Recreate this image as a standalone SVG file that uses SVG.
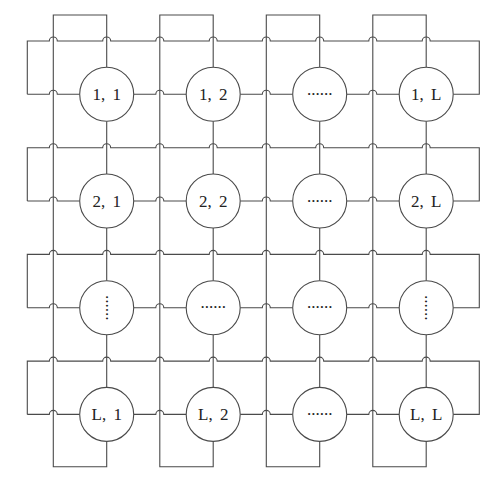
<svg xmlns="http://www.w3.org/2000/svg" width="499" height="483" viewBox="0 0 499 483">
<style>
.w{fill:none;stroke:#4a4a4a;stroke-width:1.1}
.n circle{fill:#fff;stroke:#4a4a4a;stroke-width:1.1}
.n text{font-family:"Liberation Serif","Times New Roman",serif;font-size:17px;fill:#222;text-anchor:middle;word-spacing:3px}
</style>
<rect width="499" height="483" fill="#fff"/>
<g id="connectors" class="w">
<!-- row bypass loops and node rows -->
<path d="M27.3 94.3V41H49.3A4 4 0 0 1 57.3 41H102.7A4 4 0 0 1 110.7 41H155.8A4 4 0 0 1 163.8 41H209.2A4 4 0 0 1 217.2 41H262.3A4 4 0 0 1 270.3 41H315.7A4 4 0 0 1 323.7 41H368.8A4 4 0 0 1 376.8 41H422.2A4 4 0 0 1 430.2 41H479.3V94.3H453.2M27.3 94.3H49.3A4 4 0 0 1 57.3 94.3H79.7M133.7 94.3H155.8A4 4 0 0 1 163.8 94.3H186.2M240.2 94.3H262.3A4 4 0 0 1 270.3 94.3H292.7M346.7 94.3H368.8A4 4 0 0 1 376.8 94.3H399.2"/>
<path d="M27.3 201V147.7H49.3A4 4 0 0 1 57.3 147.7H102.7A4 4 0 0 1 110.7 147.7H155.8A4 4 0 0 1 163.8 147.7H209.2A4 4 0 0 1 217.2 147.7H262.3A4 4 0 0 1 270.3 147.7H315.7A4 4 0 0 1 323.7 147.7H368.8A4 4 0 0 1 376.8 147.7H422.2A4 4 0 0 1 430.2 147.7H479.3V201H453.2M27.3 201H49.3A4 4 0 0 1 57.3 201H79.7M133.7 201H155.8A4 4 0 0 1 163.8 201H186.2M240.2 201H262.3A4 4 0 0 1 270.3 201H292.7M346.7 201H368.8A4 4 0 0 1 376.8 201H399.2"/>
<path d="M27.3 307.7V254.4H49.3A4 4 0 0 1 57.3 254.4H102.7A4 4 0 0 1 110.7 254.4H155.8A4 4 0 0 1 163.8 254.4H209.2A4 4 0 0 1 217.2 254.4H262.3A4 4 0 0 1 270.3 254.4H315.7A4 4 0 0 1 323.7 254.4H368.8A4 4 0 0 1 376.8 254.4H422.2A4 4 0 0 1 430.2 254.4H479.3V307.7H453.2M27.3 307.7H49.3A4 4 0 0 1 57.3 307.7H79.7M133.7 307.7H155.8A4 4 0 0 1 163.8 307.7H186.2M240.2 307.7H262.3A4 4 0 0 1 270.3 307.7H292.7M346.7 307.7H368.8A4 4 0 0 1 376.8 307.7H399.2"/>
<path d="M27.3 414.4V361.1H49.3A4 4 0 0 1 57.3 361.1H102.7A4 4 0 0 1 110.7 361.1H155.8A4 4 0 0 1 163.8 361.1H209.2A4 4 0 0 1 217.2 361.1H262.3A4 4 0 0 1 270.3 361.1H315.7A4 4 0 0 1 323.7 361.1H368.8A4 4 0 0 1 376.8 361.1H422.2A4 4 0 0 1 430.2 361.1H479.3V414.4H453.2M27.3 414.4H49.3A4 4 0 0 1 57.3 414.4H79.7M133.7 414.4H155.8A4 4 0 0 1 163.8 414.4H186.2M240.2 414.4H262.3A4 4 0 0 1 270.3 414.4H292.7M346.7 414.4H368.8A4 4 0 0 1 376.8 414.4H399.2"/>
<!-- column loops -->
<path d="M106.7 67.3V15H53.3V466.7H106.7V441.4M106.7 121.3V174M106.7 228V280.7M106.7 334.7V387.4"/>
<path d="M213.2 67.3V15H159.8V466.7H213.2V441.4M213.2 121.3V174M213.2 228V280.7M213.2 334.7V387.4"/>
<path d="M319.7 67.3V15H266.3V466.7H319.7V441.4M319.7 121.3V174M319.7 228V280.7M319.7 334.7V387.4"/>
<path d="M426.2 67.3V15H372.8V466.7H426.2V441.4M426.2 121.3V174M426.2 228V280.7M426.2 334.7V387.4"/>
</g>
<g id="n11" class="n"><circle cx="106.7" cy="94.3" r="27"/><text x="106.7" y="100.3">1, 1</text></g>
<g id="n12" class="n"><circle cx="213.2" cy="94.3" r="27"/><text x="213.2" y="100.3">1, 2</text></g>
<g id="n13" class="n"><circle cx="319.7" cy="94.3" r="27"/><text x="319.7" y="94.8">......</text></g>
<g id="n1L" class="n"><circle cx="426.2" cy="94.3" r="27"/><text x="426.2" y="100.3">1, L</text></g>
<g id="n21" class="n"><circle cx="106.7" cy="201" r="27"/><text x="106.7" y="207">2, 1</text></g>
<g id="n22" class="n"><circle cx="213.2" cy="201" r="27"/><text x="213.2" y="207">2, 2</text></g>
<g id="n23" class="n"><circle cx="319.7" cy="201" r="27"/><text x="319.7" y="201.5">......</text></g>
<g id="n2L" class="n"><circle cx="426.2" cy="201" r="27"/><text x="426.2" y="207">2, L</text></g>
<g id="n31" class="n"><circle cx="106.7" cy="307.7" r="27"/><text x="106.7" y="308.7" transform="rotate(90 106.7 307.7)">......</text></g>
<g id="n32" class="n"><circle cx="213.2" cy="307.7" r="27"/><text x="213.2" y="308.2">......</text></g>
<g id="n33" class="n"><circle cx="319.7" cy="307.7" r="27"/><text x="319.7" y="308.2">......</text></g>
<g id="n3L" class="n"><circle cx="426.2" cy="307.7" r="27"/><text x="426.2" y="308.7" transform="rotate(90 426.2 307.7)">......</text></g>
<g id="nL1" class="n"><circle cx="106.7" cy="414.4" r="27"/><text x="106.7" y="420.4">L, 1</text></g>
<g id="nL2" class="n"><circle cx="213.2" cy="414.4" r="27"/><text x="213.2" y="420.4">L, 2</text></g>
<g id="nL3" class="n"><circle cx="319.7" cy="414.4" r="27"/><text x="319.7" y="414.9">......</text></g>
<g id="nLL" class="n"><circle cx="426.2" cy="414.4" r="27"/><text x="426.2" y="420.4">L, L</text></g>
</svg>
